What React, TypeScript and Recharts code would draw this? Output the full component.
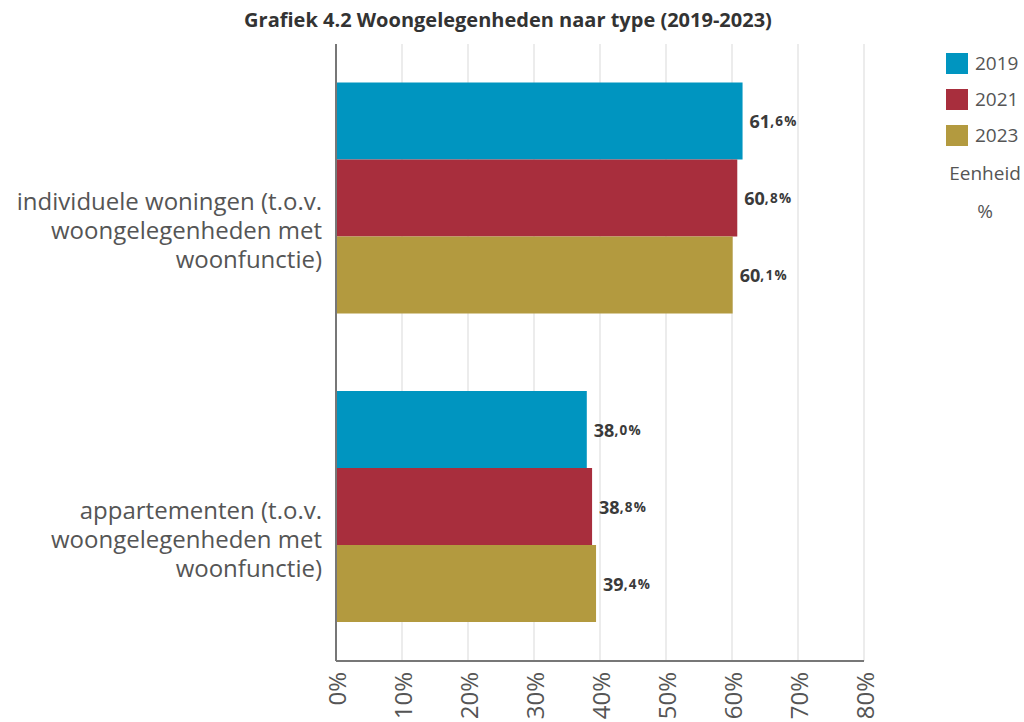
import { BarChart, Bar, XAxis, YAxis, CartesianGrid, LabelList } from "recharts";

const categoryLines = [
  ["individuele woningen (t.o.v.", "woongelegenheden met", "woonfunctie)"],
  ["appartementen (t.o.v.", "woongelegenheden met", "woonfunctie)"],
];
const years = ["2019", "2021", "2023"];
const values2019 = [61.6, 38.0];
const values2021 = [60.8, 38.8];
const values2023 = [60.1, 39.4];
const xTicks = [0, 10, 20, 30, 40, 50, 60, 70, 80];
const colors = ["#0095c0", "#a82e3d", "#b39a3f"];

const FONT = "'Open Sans', 'Noto Sans', sans-serif";

const data = categoryLines.map((lines, i) => ({
  name: lines.join(" "),
  y2019: values2019[i],
  y2021: values2021[i],
  y2023: values2023[i],
}));

const CategoryTick = ({ y, payload }: any) => {
  const idx = categoryLines.findIndex((l) => l.join(" ") === payload.value);
  const lines = categoryLines[idx] || [payload.value];
  return (
    <text
      x={322}
      y={y + 2}
      textAnchor="end"
      fill="#555"
      fontSize={24}
      fontFamily={FONT}
      dominantBaseline="central"
    >
      {lines.map((l, i) => (
        <tspan key={i} x={322} dy={i === 0 ? 0 : 29}>
          {l}
        </tspan>
      ))}
    </text>
  );
};

const PctTick = ({ x, payload }: any) => (
  <text
    x={x}
    y={672}
    transform={`rotate(-90, ${x}, 672)`}
    textAnchor="end"
    dominantBaseline="central"
    fill="#555"
    fontSize={24}
    fontFamily={FONT}
  >
    {payload.value}%
  </text>
);

const ValueLabel = ({ x, y, width, height, value }: any) => {
  const [whole, dec] = Number(value).toFixed(1).split(".");
  return (
    <text
      x={x + width + 7}
      y={y + height / 2}
      dominantBaseline="central"
      fill="#3a3a3a"
      fontFamily={FONT}
      fontWeight={700}
    >
      <tspan fontSize={18}>{whole}</tspan>
      <tspan fontSize={13.5} letterSpacing={1.3}>
        ,{dec}%
      </tspan>
    </text>
  );
};

export default function App() {
  return (
    <div
      style={{
        position: "absolute",
        left: 0,
        top: 0,
        width: 1024,
        height: 722,
        background: "#fff",
        fontFamily: FONT,
        overflow: "hidden",
      }}
    >
      <div
        style={{
          position: "absolute",
          top: 6,
          left: 0,
          width: 1016,
          textAlign: "center",
          fontSize: 20,
          fontWeight: 700,
          color: "#333",
        }}
      >
        Grafiek 4.2 Woongelegenheden naar type (2019-2023)
      </div>

      <BarChart
        width={1024}
        height={722}
        data={data}
        layout="vertical"
        margin={{ top: 44, right: 160, left: 0, bottom: 0 }}
        barCategoryGap="12.5%"
        barGap={0}
      >
        <CartesianGrid horizontal={false} stroke="#ececec" strokeWidth={2} />
        <XAxis
          type="number"
          domain={[0, 80]}
          ticks={xTicks}
          interval={0}
          height={61}
          axisLine={{ stroke: "#777", strokeWidth: 2 }}
          tickLine={false}
          tick={<PctTick />}
        />
        <YAxis
          type="category"
          dataKey="name"
          width={336}
          axisLine={{ stroke: "#777", strokeWidth: 2 }}
          tickLine={false}
          tick={<CategoryTick />}
        />
        {["y2019", "y2021", "y2023"].map((k, i) => (
          <Bar key={k} dataKey={k} fill={colors[i]} isAnimationActive={false}>
            <LabelList dataKey={k} content={<ValueLabel />} />
          </Bar>
        ))}
      </BarChart>

      <div
        style={{
          position: "absolute",
          left: 946,
          top: 52,
          fontSize: 19,
          color: "#555",
        }}
      >
        {years.map((yr, i) => (
          <div
            key={yr}
            style={{ display: "flex", alignItems: "center", height: 22, marginBottom: 14 }}
          >
            <span
              style={{
                display: "inline-block",
                width: 22,
                height: 21,
                background: colors[i],
                marginRight: 7,
              }}
            />
            {yr}
          </div>
        ))}
        <div style={{ width: 78, textAlign: "center", marginTop: 2 }}>Eenheid</div>
        <div style={{ width: 78, textAlign: "center", marginTop: 12 }}>%</div>
      </div>
    </div>
  );
}
